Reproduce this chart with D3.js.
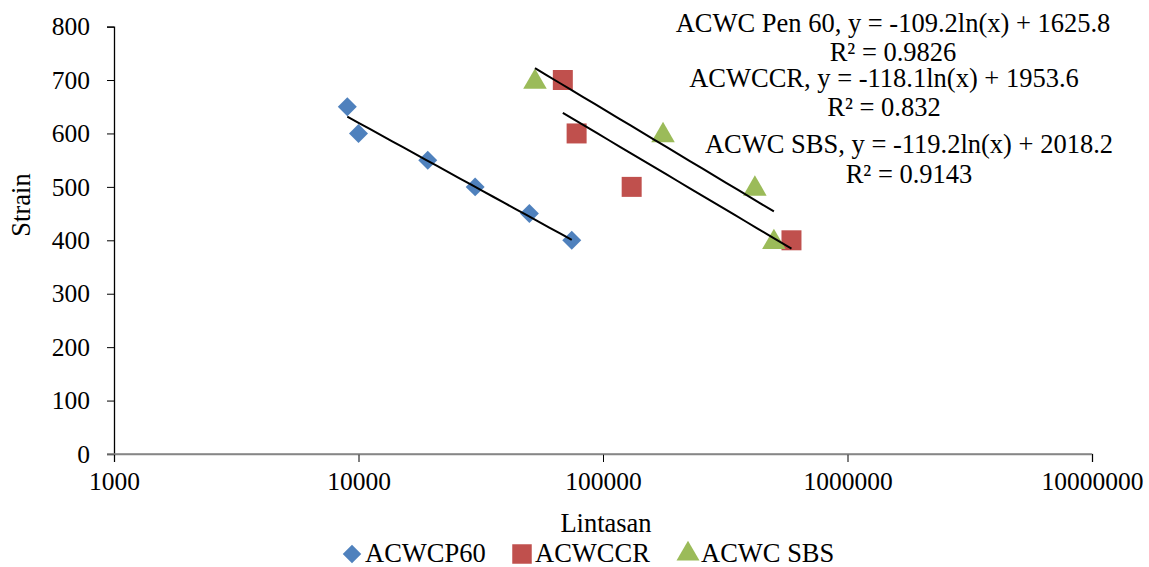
<!DOCTYPE html>
<html>
<head>
<meta charset="utf-8">
<script src="https://cdn.jsdelivr.net/npm/d3@7"></script>
<style>
  body { margin: 0; background: #fff; }
</style>
</head>
<body>
<svg width="1149" height="567"></svg>
<script>
// series values
var p60X = [9000, 10000, 19200, 30000, 50000, 74500];
var p60Y = [650, 600, 550, 500, 450, 400];
var ccrX = [68500, 78000, 131000, 590000];
var ccrY = [700, 600, 500, 400];
var sbsX = [52700, 176000, 418000, 500000];
var sbsY = [700, 600, 500, 400];

var seriesNames = ["ACWCP60", "ACWCCR", "ACWC SBS"];
var seriesColors = ["#4F81BD", "#C0504D", "#9BBB59"];

// log trendlines y = a ln(x) + b
var trendA = [-109.2, -118.1, -119.2];
var trendB = [1625.8, 1953.6, 2018.2];
var trendR2 = ["0.9826", "0.832", "0.9143"];
var trendNames = ["ACWC Pen 60", "ACWCCR", "ACWC SBS"];

var xTicks = [1000, 10000, 100000, 1000000, 10000000];
var yTicks = [0, 100, 200, 300, 400, 500, 600, 700, 800];

var margin = { top: 26.6, right: 57, bottom: 113, left: 114 },
  width = 1149,
  height = 567;

var svg = d3.select("svg");
var font = "'Liberation Serif', 'Times New Roman', Times, serif";
var fs = 26.5, tickFs = 25.5;

var x = d3.scaleLog().domain([1000, 10000000]).range([margin.left, width - margin.right]);
var y = d3.scaleLinear().domain([0, 800]).range([height - margin.bottom, margin.top]);

// x axis (grey)
var xAxis = svg.append("g")
  .attr("transform", "translate(0," + y(0) + ")")
  .call(d3.axisBottom(x).tickValues(xTicks).tickFormat(d3.format("d")).tickSize(8).tickPadding(10));
xAxis.select(".domain").attr("stroke", "#868686").attr("stroke-width", 1.5);
xAxis.selectAll(".tick line").attr("stroke", "#000");
xAxis.selectAll("text").attr("dy", "0.72em");

// y axis
var yAxis = svg.append("g")
  .attr("transform", "translate(" + x(1000) + ",0)")
  .call(d3.axisLeft(y).tickValues(yTicks).tickSize(7).tickPadding(17));
yAxis.select(".domain").attr("stroke", "#000").attr("stroke-width", 1.3);
yAxis.selectAll(".tick line").attr("stroke", "#000");
// x-axis line drawn over the 0 tick
svg.append("line")
  .attr("x1", x(1000) - 7).attr("x2", x(10000000))
  .attr("y1", y(0)).attr("y2", y(0))
  .attr("stroke", "#868686").attr("stroke-width", 1.5);

svg.selectAll(".tick text")
  .attr("font-family", null)
  .style("font-family", font)
  .style("font-size", tickFs + "px")
  .style("fill", "#000");

var labels = svg.append("g");

// axis titles
labels.append("text")
  .attr("x", (x(1000) + x(10000000)) / 2 + 3)
  .attr("y", 532)
  .attr("text-anchor", "middle")
  .text("Lintasan");

labels.append("text")
  .attr("transform", "translate(30,205) rotate(-90)")
  .attr("text-anchor", "middle")
  .text("Strain");

var sym = [d3.symbolSquare, d3.symbolSquare, d3.symbolTriangle];
var symSize = [180, 400, 240];
var symRot = [45, 0, 0];

var allX = [p60X, ccrX, sbsX];
var allY = [p60Y, ccrY, sbsY];

// points
allX.forEach(function (xs, i) {
  var pts = xs.map(function (v, j) { return [v, allY[i][j]]; });
  svg.append("g")
    .selectAll("path")
    .data(pts)
    .join("path")
    .attr("d", d3.symbol().type(sym[i]).size(symSize[i]))
    .attr("transform", function (d) {
      var dy = i === 2 ? 2 : 0;
      return "translate(" + x(d[0]) + "," + (y(d[1]) + dy) + ") rotate(" + symRot[i] + ")";
    })
    .attr("fill", seriesColors[i]);
});

// trendlines over each series' x range
var line = d3.line().x(function (d) { return x(d[0]); }).y(function (d) { return y(d[1]); });
allX.forEach(function (xs, i) {
  var ext = d3.extent(xs);
  var pts = d3.range(0, 21).map(function (k) {
    var v = Math.exp(Math.log(ext[0]) + (Math.log(ext[1]) - Math.log(ext[0])) * k / 20);
    return [v, trendA[i] * Math.log(v) + trendB[i]];
  });
  svg.append("path")
    .datum(pts)
    .attr("d", line)
    .attr("fill", "none")
    .attr("stroke", "#000")
    .attr("stroke-width", 2);
});

// trendline labels
var labelPos = [[893, 32, 61], [884, 87, 116], [909, 153, 183]];
trendNames.forEach(function (n, i) {
  var g = labels.append("g").attr("text-anchor", "middle");
  g.append("text").attr("x", labelPos[i][0]).attr("y", labelPos[i][1])
    .text(n + ", y = " + trendA[i] + "ln(x) + " + trendB[i]);
  g.append("text").attr("x", labelPos[i][0]).attr("y", labelPos[i][2])
    .text("R\u00B2 = " + trendR2[i]);
});

// legend
var legX = [352, 522, 688];
var leg = labels.append("g");
seriesNames.forEach(function (n, i) {
  leg.append("path")
    .attr("d", d3.symbol().type(sym[i]).size(symSize[i] * 0.95))
    .attr("transform", "translate(" + legX[i] + ",554) rotate(" + symRot[i] + ")")
    .attr("fill", seriesColors[i]);
  leg.append("text")
    .attr("x", legX[i] + 13)
    .attr("y", 562)
    .text(n);
});

labels.selectAll("text")
  .style("font-family", font)
  .style("font-size", fs + "px")
  .style("fill", "#000");
</script>
</body>
</html>
